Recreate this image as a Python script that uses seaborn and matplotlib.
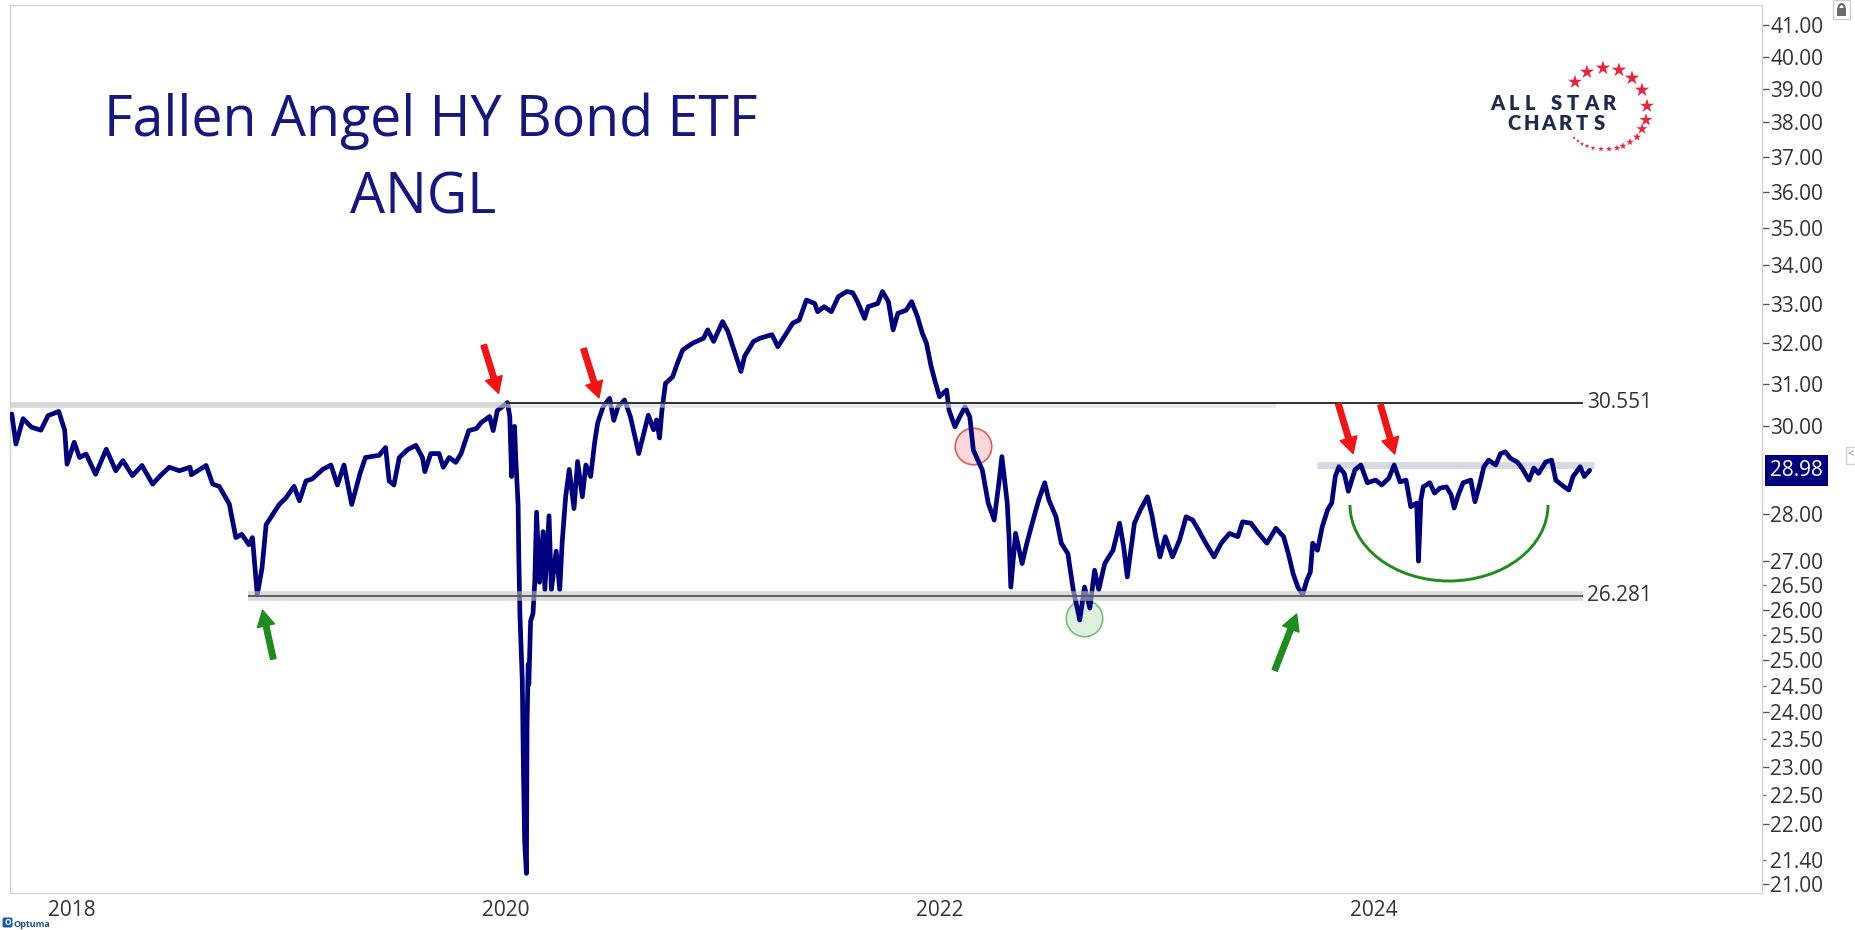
import pandas as pd
import matplotlib
matplotlib.use("Agg")
import matplotlib.pyplot as plt
from matplotlib.patches import Arc, Rectangle, FancyBboxPatch
from matplotlib.ticker import FixedLocator, StrMethodFormatter
from matplotlib.transforms import offset_copy
import seaborn as sns

sns.set_theme(style="white")
plt.rcParams['font.family'] = ['Open Sans', 'DejaVu Sans']

# ANGL closes (roughly every 1-2 weeks, plus the swings)
dates = [
    '2017-11-08', '2017-11-15', '2017-11-27', '2017-12-11', '2017-12-27', '2018-01-08', '2018-01-26',
    '2018-02-05', '2018-02-09', '2018-02-21', '2018-03-02', '2018-03-13', '2018-03-29', '2018-04-16',
    '2018-05-02', '2018-05-14', '2018-05-30', '2018-06-15', '2018-07-03', '2018-07-16', '2018-07-31',
    '2018-08-17', '2018-09-04', '2018-09-06', '2018-10-01', '2018-10-12', '2018-10-23', '2018-11-09',
    '2018-11-20', '2018-11-30', '2018-12-12', '2018-12-18', '2018-12-26', '2019-01-03', '2019-01-10',
    '2019-01-21', '2019-02-01', '2019-02-12', '2019-02-26', '2019-03-07', '2019-03-18', '2019-03-29',
    '2019-04-15', '2019-04-29', '2019-05-10', '2019-05-21', '2019-06-03', '2019-06-17', '2019-06-26',
    '2019-07-19', '2019-07-30', '2019-08-05', '2019-08-13', '2019-08-22', '2019-09-05', '2019-09-19',
    '2019-09-30', '2019-10-04', '2019-10-14', '2019-10-28', '2019-11-04', '2019-11-14', '2019-11-25',
    '2019-12-04', '2019-12-17', '2019-12-30', '2020-01-07', '2020-01-21', '2020-01-27', '2020-02-03',
    '2020-02-12', '2020-02-20', '2020-02-24', '2020-02-27', '2020-03-03', '2020-03-05', '2020-03-09',
    '2020-03-10', '2020-03-12', '2020-03-16', '2020-03-18', '2020-03-20', '2020-03-23', '2020-03-24',
    '2020-03-26', '2020-03-27', '2020-03-30', '2020-04-03', '2020-04-06', '2020-04-09', '2020-04-14',
    '2020-04-20', '2020-04-23', '2020-04-30', '2020-05-04', '2020-05-12', '2020-05-18', '2020-05-22',
    '2020-05-28', '2020-06-03', '2020-06-11', '2020-06-17', '2020-06-25', '2020-07-01', '2020-07-09',
    '2020-07-16', '2020-07-21', '2020-07-30', '2020-08-10', '2020-08-17', '2020-08-24', '2020-09-04',
    '2020-09-14', '2020-09-28', '2020-10-08', '2020-10-14', '2020-10-23', '2020-10-28', '2020-11-02',
    '2020-11-06', '2020-11-12', '2020-11-24', '2020-12-02', '2020-12-11', '2020-12-28', '2021-01-15',
    '2021-01-22', '2021-02-01', '2021-02-16', '2021-02-25', '2021-03-08', '2021-03-19', '2021-03-25',
    '2021-04-09', '2021-04-20', '2021-05-10', '2021-05-20', '2021-06-02', '2021-06-14', '2021-06-25',
    '2021-07-07', '2021-07-21', '2021-07-26', '2021-08-06', '2021-08-18', '2021-08-30', '2021-09-13',
    '2021-09-23', '2021-10-01', '2021-10-13', '2021-10-19', '2021-11-04', '2021-11-12', '2021-11-22',
    '2021-11-30', '2021-12-08', '2021-12-22', '2021-12-31', '2022-01-10', '2022-01-18', '2022-01-25',
    '2022-02-02', '2022-02-08', '2022-02-16', '2022-02-28', '2022-03-04', '2022-03-14', '2022-03-22',
    '2022-03-31', '2022-04-08', '2022-04-14', '2022-04-29', '2022-05-09', '2022-05-19', '2022-05-27',
    '2022-06-01', '2022-06-10', '2022-06-13', '2022-06-16', '2022-06-24', '2022-07-05', '2022-07-13',
    '2022-07-25', '2022-08-02', '2022-08-12', '2022-08-19', '2022-08-31', '2022-09-09', '2022-09-20',
    '2022-09-29', '2022-10-10', '2022-10-18', '2022-10-27', '2022-11-04', '2022-11-11', '2022-11-21',
    '2022-12-05', '2022-12-16', '2022-12-23', '2022-12-29', '2023-01-10', '2023-01-20', '2023-02-01',
    '2023-02-09', '2023-02-15', '2023-02-22', '2023-03-03', '2023-03-15', '2023-03-27', '2023-04-07',
    '2023-04-18', '2023-04-28', '2023-05-10', '2023-05-24', '2023-06-05', '2023-06-19', '2023-07-03',
    '2023-07-11', '2023-07-25', '2023-08-07', '2023-08-21', '2023-09-05', '2023-09-18', '2023-09-26',
    '2023-10-04', '2023-10-12', '2023-10-20', '2023-10-27', '2023-11-02', '2023-11-06', '2023-11-14',
    '2023-11-22', '2023-12-01', '2023-12-08', '2023-12-14', '2023-12-20', '2023-12-29', '2024-01-05',
    '2024-01-16', '2024-01-26', '2024-02-06', '2024-02-20', '2024-03-01', '2024-03-13', '2024-03-22',
    '2024-04-01', '2024-04-11', '2024-04-16', '2024-04-19', '2024-04-29', '2024-05-02', '2024-05-06',
    '2024-05-10', '2024-05-21', '2024-05-29', '2024-06-07', '2024-06-18', '2024-06-26', '2024-07-01',
    '2024-07-08', '2024-07-16', '2024-07-29', '2024-08-05', '2024-08-12', '2024-08-20', '2024-08-28',
    '2024-09-09', '2024-09-17', '2024-09-25', '2024-10-04', '2024-10-15', '2024-10-23', '2024-11-04',
    '2024-11-12', '2024-11-20', '2024-12-02', '2024-12-12', '2024-12-19', '2025-01-02', '2025-01-10',
    '2025-01-17', '2025-01-29', '2025-02-05', '2025-02-14',
]
prices = [
    30.28, 29.58, 30.17, 29.97, 29.90, 30.24, 30.34,
    29.90, 29.12, 29.62, 29.27, 29.35, 28.89, 29.46,
    28.97, 29.20, 28.86, 29.09, 28.67, 28.86, 29.05,
    28.97, 29.05, 28.88, 29.09, 28.67, 28.62, 28.23,
    27.50, 27.57, 27.35, 27.50, 26.30, 26.85, 27.78,
    28.00, 28.22, 28.36, 28.62, 28.30, 28.74, 28.79,
    29.00, 29.10, 28.65, 29.10, 28.22, 28.91, 29.27,
    29.32, 29.50, 28.74, 28.65, 29.27, 29.45, 29.55,
    29.27, 28.95, 29.36, 29.36, 29.05, 29.27, 29.16,
    29.36, 29.89, 29.94, 30.08, 30.22, 29.89, 30.36,
    30.46, 30.55, 30.22, 28.84, 29.99, 29.27, 28.20,
    27.20, 25.90, 24.60, 22.90, 21.70, 21.17, 23.77,
    24.92, 24.53, 25.77, 25.92, 26.56, 28.05, 26.56,
    27.63, 26.41, 27.97, 26.41, 27.21, 26.41, 27.38,
    28.39, 29.00, 28.13, 29.18, 28.39, 29.10, 28.84,
    29.64, 30.08, 30.45, 30.65, 30.13, 30.45, 30.61,
    30.21, 29.36, 29.91, 30.25, 29.91, 30.14, 29.72,
    30.37, 31.01, 31.17, 31.50, 31.83, 32.00, 32.12,
    32.33, 32.04, 32.54, 32.29, 31.79, 31.30, 31.67,
    32.04, 32.12, 32.21, 31.91, 32.21, 32.50, 32.58,
    33.09, 33.00, 32.79, 32.92, 32.79, 33.18, 33.31,
    33.28, 33.05, 32.62, 32.92, 33.00, 33.31, 33.05,
    32.33, 32.75, 32.83, 33.05, 32.66, 32.25, 32.00,
    31.42, 31.09, 30.69, 30.85, 30.37, 29.98, 30.21,
    30.45, 30.21, 29.44, 28.99, 28.25, 27.88, 28.70,
    29.29, 28.25, 27.52, 26.46, 27.59, 26.95, 27.38,
    27.95, 28.32, 28.70, 28.32, 27.95, 27.38, 27.16,
    26.41, 25.79, 26.46, 26.03, 26.81, 26.41, 26.95,
    27.23, 27.81, 27.30, 26.67, 27.81, 28.10, 28.39,
    27.95, 27.52, 27.09, 27.52, 27.09, 27.45, 27.95,
    27.88, 27.66, 27.38, 27.09, 27.38, 27.59, 27.52,
    27.84, 27.81, 27.59, 27.38, 27.70, 27.52, 27.16,
    26.74, 26.46, 26.30, 26.60, 26.77, 27.38, 27.23,
    27.73, 28.10, 28.25, 28.84, 29.06, 28.91, 28.51,
    28.99, 29.10, 28.70, 28.76, 28.65, 28.80, 29.10,
    28.72, 28.76, 28.39, 28.17, 28.25, 27.00, 28.32,
    28.61, 28.70, 28.47, 28.58, 28.61, 28.43, 28.14,
    28.43, 28.70, 28.76, 28.28, 28.61, 29.06, 29.21,
    29.10, 29.36, 29.40, 29.25, 29.17, 29.03, 28.76,
    29.03, 28.91, 29.17, 29.21, 28.76, 28.61, 28.54,
    28.84, 29.06, 28.84, 28.98,
]

resistance = 30.551
support = 26.281
range_top = 29.10
last_price = 28.98

year_ticks = ['2018-01-01', '2020-01-01', '2022-01-01', '2024-01-01']
year_labels = ['2018', '2020', '2022', '2024']
major_ticks = [21, 22, 23, 24, 25, 26, 27, 28, 30, 31, 32, 33, 34, 35, 36, 37, 38, 39, 40, 41]
minor_ticks = [21.4, 22.5, 23.5, 24.5, 25.5, 26.5]

# annotations: (tail date, tail price, tip date, tip price)
red_arrows = [
    ('2020-01-11', 31.95, '2020-02-05', 30.77),
    ('2020-06-27', 31.86, '2020-07-23', 30.66),
    ('2023-12-19', 30.52, '2024-01-13', 29.36),
    ('2024-02-28', 30.50, '2024-03-23', 29.35),
]
green_arrows = [
    ('2019-01-22', 25.02, '2019-01-04', 25.99),
    ('2023-09-03', 24.80, '2023-10-10', 25.91),
]
red_circle = ('2022-04-13', 29.53)
green_circle = ('2022-10-17', 25.83)

NAVY = '#00007f'
df = pd.DataFrame({'Date': pd.to_datetime(dates), 'Close': prices})

W, H = 1855, 930
fig = plt.figure(figsize=(W / 100, H / 100), dpi=100)
ax = fig.add_axes([10 / W, 37 / H, 1752 / W, 888 / H])

sns.lineplot(data=df, x='Date', y='Close', ax=ax, color=NAVY, lw=3.4,
             estimator=None, zorder=5)
ax.set_xlabel('')
ax.set_ylabel('')
ax.set_yscale('log')
ax.set_ylim(20.85, 41.64)
ax.set_xlim(pd.Timestamp('2017-11-05'), pd.Timestamp('2025-12-01'))

# right price axis
ax.yaxis.tick_right()
ax.yaxis.set_major_locator(FixedLocator(major_ticks))
ax.yaxis.set_minor_locator(FixedLocator(minor_ticks))
ax.yaxis.set_major_formatter(StrMethodFormatter('{x:.2f}'))
ax.yaxis.set_minor_formatter(StrMethodFormatter('{x:.2f}'))
ax.tick_params(axis='y', which='major', direction='out', length=5, width=1,
               color='#555555', labelsize=15, labelcolor='#333333', pad=1)
ax.tick_params(axis='y', which='minor', direction='out', length=3, width=1,
               color='#777777', labelsize=15, labelcolor='#333333', pad=3)

# year separators below the plot
ax.set_xticks(pd.to_datetime(year_ticks))
ax.set_xticklabels([])
ax.tick_params(axis='x', which='major', direction='out', length=27, width=1, color='#d6d6d6')
ax.tick_params(axis='x', which='minor', length=0)
ytrans = offset_copy(ax.get_xaxis_transform(), fig=fig, x=4, y=0, units='dots')
for d, lab in zip(year_ticks, year_labels):
    ax.text(pd.Timestamp(d), -0.02, lab, transform=ytrans, ha='left', va='center',
            fontsize=15, color='#333333')

for s in ax.spines.values():
    s.set_color('#d4d4d4')
    s.set_linewidth(1)

# support / resistance levels
end = pd.Timestamp('2025-02-03')
ax.hlines(30.50, pd.Timestamp('2017-11-05'), pd.Timestamp('2020-02-17'),
          color='#c8c8c8', lw=4, alpha=0.7, zorder=6)
ax.hlines(30.50, pd.Timestamp('2020-02-17'), pd.Timestamp('2023-09-06'),
          color='#dcdcdc', lw=4, alpha=0.6, zorder=6)
ax.hlines(resistance, pd.Timestamp('2020-02-17'), end, color='#222222', lw=1.3, zorder=6)
ax.hlines(support, pd.Timestamp('2018-12-10'), end, color='#c4c4c4', lw=7, alpha=0.6, zorder=6)
ax.hlines(support, pd.Timestamp('2018-12-10'), end, color='#555555', lw=1.3, zorder=6)
ax.hlines(range_top, pd.Timestamp('2023-11-14'), pd.Timestamp('2025-02-22'),
          color='#d6d9e1', lw=5, zorder=3)
for lvl, txt in [(resistance, '30.551'), (support, '26.281')]:
    ax.annotate(txt, xy=(end, lvl), xytext=(3, 0), textcoords='offset points',
                va='center', ha='left', fontsize=15, color='#333333')

# arrows and circles
arrow_style = 'simple,head_width=1.25,head_length=1.15,tail_width=0.4'
for t0, p0, t1, p1 in red_arrows:
    ax.annotate('', xy=(pd.Timestamp(t1), p1), xytext=(pd.Timestamp(t0), p0),
                arrowprops=dict(arrowstyle=arrow_style, color='#f21414', mutation_scale=10,
                                shrinkA=0, shrinkB=0),
                zorder=7)
for t0, p0, t1, p1 in green_arrows:
    ax.annotate('', xy=(pd.Timestamp(t1), p1), xytext=(pd.Timestamp(t0), p0),
                arrowprops=dict(arrowstyle=arrow_style, color='#1e8c1e', mutation_scale=10,
                                shrinkA=0, shrinkB=0),
                zorder=7)
ax.scatter([pd.Timestamp(red_circle[0])], [red_circle[1]], s=690, facecolor='#fbd9d9',
           edgecolor='#e65a5a', lw=1.2, zorder=4)
ax.scatter([pd.Timestamp(green_circle[0])], [green_circle[1]], s=690, facecolor='#ddf0dd',
           edgecolor='#74c074', lw=1.2, zorder=4)

# price tag on the axis
ax.text(1.0046, last_price, f'{last_price:.2f}', transform=ax.get_yaxis_transform(),
        ha='left', va='center', fontsize=15, color='white', zorder=8,
        bbox=dict(boxstyle='square,pad=0.25', fc=NAVY, ec='none'))

# overlay in pixel space for title, logo, arc
ov = fig.add_axes([0, 0, 1, 1], facecolor='none')
ov.set_xlim(0, W)
ov.set_ylim(H, 0)
ov.axis('off')

ov.text(431, 136, 'Fallen Angel HY Bond ETF', fontsize=40, color='#16167f',
        ha='center', va='baseline')
ov.text(423, 213, 'ANGL', fontsize=40, color='#16167f', ha='center', va='baseline')

ov.add_patch(Arc((1449, 505), 198, 152, theta1=0, theta2=180, color='#1e8c1e', lw=2.1))

# All Star Charts logo
logo_top = 'ALLSTAR'
logo_top_x = [1497, 1514, 1530, 1556, 1573, 1591, 1609]
logo_bot = 'CHARTS'
logo_bot_x = [1514, 1531, 1548, 1565, 1582, 1599]
for ch, x in zip(logo_top, logo_top_x):
    ov.text(x, 103, ch, fontsize=14.5, fontweight='heavy', family='Lato',
            color='#1d2b4f', ha='center', va='center')
for ch, x in zip(logo_bot, logo_bot_x):
    ov.text(x, 123.5, ch, fontsize=14.5, fontweight='heavy', family='Lato',
            color='#1d2b4f', ha='center', va='center')
star_pts = [(1575, 82), (1587, 72), (1603, 68), (1619, 70), (1632, 78), (1642, 90),
            (1647, 106), (1646, 120), (1642, 129)]
dot_pts = [(1637, 137), (1630, 142), (1623, 146), (1617, 148), (1609, 149), (1601, 149),
           (1593, 148), (1587, 146), (1582, 144), (1578, 141), (1574, 138)]
ov.scatter([p[0] for p in star_pts], [p[1] for p in star_pts], marker='*',
           s=[110, 115, 120, 120, 120, 115, 110, 95, 70], color='#e8253a', lw=0)
ov.scatter([p[0] for p in dot_pts], [p[1] for p in dot_pts], marker='*',
           s=[40, 34, 30, 26, 22, 18, 15, 13, 11, 9, 8], color='#e8253a', lw=0)

# Optuma badge (kept left of the 2018 label), lock and side tab
ov.add_patch(FancyBboxPatch((3, 918), 9, 9, boxstyle='round,pad=0.5,rounding_size=2',
                            fc='#1d5aa6', ec='none', zorder=10))
ov.text(7.5, 922.5, 'O', fontsize=6, fontweight='bold', color='white', ha='center',
        va='center', zorder=11)
ov.text(14, 924, 'Optuma', fontsize=6.5, fontweight='bold', color='#1d4f8a', ha='left',
        va='center', zorder=11)
ov.add_patch(Rectangle((1833, 0), 17, 19, fc='white', ec='#d0d0d0', lw=1))
ov.add_patch(Rectangle((1837, 8), 9, 8, fc='#6b6b6b', ec='none'))
ov.add_patch(Arc((1841.5, 8), 6, 8, theta1=180, theta2=360, color='#6b6b6b', lw=1.5))
ov.add_patch(Rectangle((1846, 447), 9, 17, fc='white', ec='#d0d0d0', lw=1))
ov.text(1850.5, 455, '<', fontsize=8, color='#777777', ha='center', va='center')

fig.savefig('out.png', dpi=100, facecolor='white')
